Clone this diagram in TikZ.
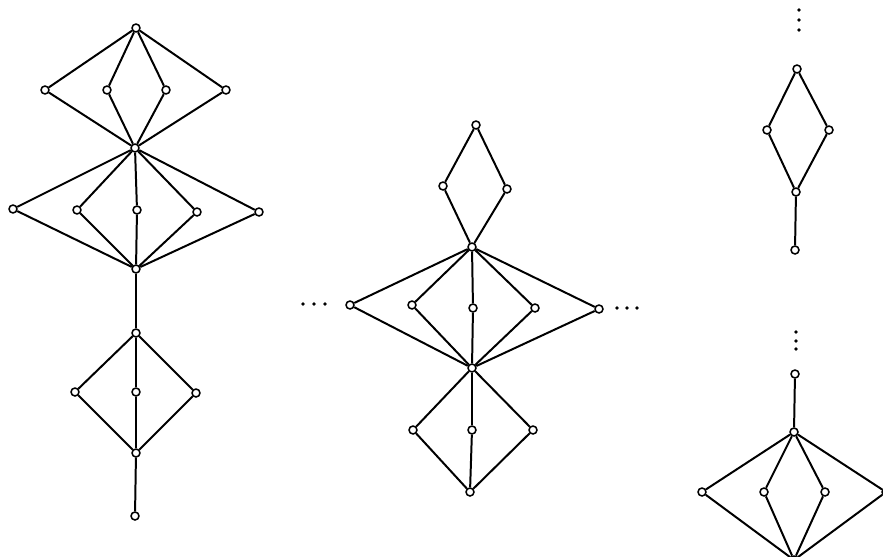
\documentclass[tikz,border=0pt]{standalone}
\begin{document}
\begin{tikzpicture}[x=0.03cm,y=-0.03cm,
  v/.style={circle,draw,fill=white,inner sep=0pt,minimum size=6.8pt,line width=1.3pt},
  e/.style={line width=1.7pt},
  dotmark/.style={circle,fill=black,inner sep=0pt,minimum size=3.2pt}]
\useasboundingbox (0,0) rectangle (883,557);
\clip (0,0) rectangle (883,557);
% ---------- left diagram ----------
\node[v] (a0) at (136,28) {};
\node[v] (a1) at (45,90) {};
\node[v] (a2) at (107,90) {};
\node[v] (a3) at (166,90) {};
\node[v] (a4) at (226,90) {};
\node[v] (ac) at (135,148) {};
\node[v] (b1) at (13,209) {};
\node[v] (b2) at (77,210) {};
\node[v] (b3) at (137,210) {};
\node[v] (b4) at (197,212) {};
\node[v] (b5) at (259,212) {};
\node[v] (bc) at (136,269) {};
\node[v] (c0) at (136,333) {};
\node[v] (c1) at (75,392) {};
\node[v] (c2) at (136,392) {};
\node[v] (c3) at (196,393) {};
\node[v] (c4) at (136,453) {};
\node[v] (c5) at (135,516) {};
\foreach \n in {a1,a2,a3,a4} {\draw[e] (a0) -- (\n); \draw[e] (\n) -- (ac);}
\foreach \n in {b1,b2,b3,b4,b5} {\draw[e] (ac) -- (\n); \draw[e] (\n) -- (bc);}
\draw[e] (bc) -- (c0);
\foreach \n in {c1,c2,c3} {\draw[e] (c0) -- (\n); \draw[e] (\n) -- (c4);}
\draw[e] (c4) -- (c5);
% ---------- middle diagram ----------
\node[v] (m0) at (476,125) {};
\node[v] (m1) at (443,186) {};
\node[v] (m2) at (507,189) {};
\node[v] (mc) at (472,247) {};
\node[v] (n1) at (350,305) {};
\node[v] (n2) at (412,305) {};
\node[v] (n3) at (473,308) {};
\node[v] (n4) at (535,308) {};
\node[v] (n5) at (599,309) {};
\node[v] (nc) at (472,368) {};
\node[v] (p1) at (413,430) {};
\node[v] (p2) at (472,430) {};
\node[v] (p3) at (533,430) {};
\node[v] (p4) at (470,492) {};
\foreach \n in {m1,m2} {\draw[e] (m0) -- (\n); \draw[e] (\n) -- (mc);}
\foreach \n in {n1,n2,n3,n4,n5} {\draw[e] (mc) -- (\n); \draw[e] (\n) -- (nc);}
\foreach \n in {p1,p2,p3} {\draw[e] (nc) -- (\n); \draw[e] (\n) -- (p4);}
\node[dotmark] (dl1) at (303,304) {};
\node[dotmark] (dl2) at (314,304) {};
\node[dotmark] (dl3) at (325,304) {};
\node[dotmark] (dr1) at (617,308) {};
\node[dotmark] (dr2) at (627,308) {};
\node[dotmark] (dr3) at (637,308) {};
% ---------- right top diagram ----------
\node[dotmark] (rd1) at (799,10) {};
\node[dotmark] (rd2) at (799,20) {};
\node[dotmark] (rd3) at (799,30) {};
\node[v] (r0) at (797,69) {};
\node[v] (r1) at (767,130) {};
\node[v] (r2) at (829,130) {};
\node[v] (r3) at (796,192) {};
\node[v] (r4) at (795,250) {};
\foreach \n in {r1,r2} {\draw[e] (r0) -- (\n); \draw[e] (\n) -- (r3);}
\draw[e] (r3) -- (r4);
% ---------- right bottom diagram ----------
\node[dotmark] (sd1) at (796,332) {};
\node[dotmark] (sd2) at (796,341) {};
\node[dotmark] (sd3) at (796,349) {};
\node[v] (s0) at (795,374) {};
\node[v] (sc) at (794,432) {};
\node[v] (s1) at (702,492) {};
\node[v] (s2) at (764,492) {};
\node[v] (s3) at (825,492) {};
\node[v] (s4) at (886,492) {};
\node[v] (s5) at (794,560) {};
\draw[e] (s0) -- (sc);
\foreach \n in {s1,s2,s3,s4} {\draw[e] (sc) -- (\n); \draw[e] (\n) -- (s5);}
\end{tikzpicture}
\end{document}
